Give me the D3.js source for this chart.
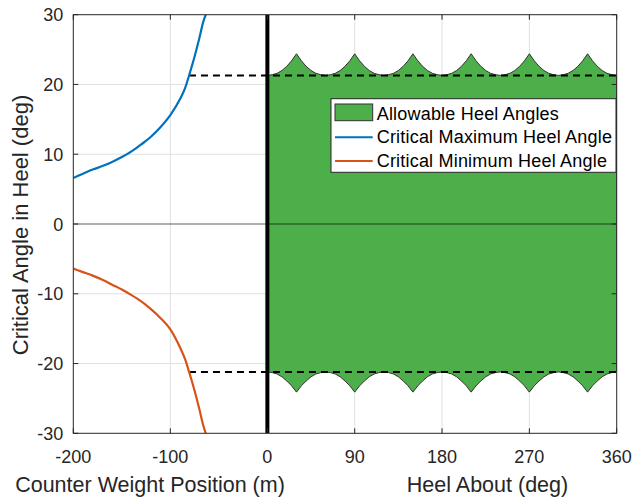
<!DOCTYPE html>
<html>
<head>
<meta charset="utf-8">
<script src="https://cdn.jsdelivr.net/npm/d3@7"></script>
<style>
  html, body { margin: 0; padding: 0; background: #fff; }
  svg { display: block; font-family: "Liberation Sans", Arial, Helvetica, sans-serif; }
</style>
</head>
<body>
<svg id="chart" width="635" height="500"></svg>
<script>
// ---------- data ----------
const xTicks = [-200, -100, 0, 90, 180, 270, 360];
const yTicks = [-30, -20, -10, 0, 10, 20, 30];
const xGrid = [-100, 90, 180, 270];
const yGrid = [-20, -10, 10, 20];

// Counter weight position (m) vs critical heel angle (deg)
const cwPos = [-200, -190, -180, -170, -160, -150, -140, -130, -120, -110, -100, -90, -85, -80, -75, -70, -66, -63.5];
const critMax = [6.6, 7.2, 7.8, 8.3, 8.9, 9.6, 10.4, 11.4, 12.5, 13.9, 15.6, 17.9, 19.4, 21.6, 24.0, 26.7, 29.0, 30.0];
const critMin = [-6.4, -6.9, -7.4, -8.0, -8.7, -9.4, -10.2, -11.1, -12.2, -13.5, -15.1, -17.7, -19.3, -21.5, -23.9, -26.6, -28.9, -30.0];

// Heel about (deg) vs allowable heel band
const heelAbout = [0,5,10,15,20,25,30,35,40,45,50,55,60,65,70,75,80,85,90,95,100,105,110,115,120,125,130,135,140,145,150,155,160,165,170,175,180,185,190,195,200,205,210,215,220,225,230,235,240,245,250,255,260,265,270,275,280,285,290,295,300,305,310,315,320,325,330,335,340,345,350,355,360];
const allowUpper = [21.3,21.4,21.6,22.0,22.6,23.4,24.4,23.4,22.6,22.0,21.6,21.4,
                    21.3,21.4,21.6,22.0,22.6,23.4,24.4,23.4,22.6,22.0,21.6,21.4,
                    21.3,21.4,21.6,22.0,22.6,23.4,24.4,23.4,22.6,22.0,21.6,21.4,
                    21.3,21.4,21.6,22.0,22.6,23.4,24.4,23.4,22.6,22.0,21.6,21.4,
                    21.3,21.4,21.6,22.0,22.6,23.4,24.4,23.4,22.6,22.0,21.6,21.4,
                    21.3,21.4,21.6,22.0,22.6,23.4,24.4,23.4,22.6,22.0,21.6,21.4,
                    21.3];
const allowLower = [-21.2,-21.3,-21.5,-21.9,-22.5,-23.2,-24.1,-23.2,-22.5,-21.9,-21.5,-21.3,
                    -21.2,-21.3,-21.5,-21.9,-22.5,-23.2,-24.1,-23.2,-22.5,-21.9,-21.5,-21.3,
                    -21.2,-21.3,-21.5,-21.9,-22.5,-23.2,-24.1,-23.2,-22.5,-21.9,-21.5,-21.3,
                    -21.2,-21.3,-21.5,-21.9,-22.5,-23.2,-24.1,-23.2,-22.5,-21.9,-21.5,-21.3,
                    -21.2,-21.3,-21.5,-21.9,-22.5,-23.2,-24.1,-23.2,-22.5,-21.9,-21.5,-21.3,
                    -21.2,-21.3,-21.5,-21.9,-22.5,-23.2,-24.1,-23.2,-22.5,-21.9,-21.5,-21.3,
                    -21.2];

// Critical limits (dashed lines)
const limitLevels = [21.3, -21.2];
const limitStart = [-80.8, -80.8];
const limitEnd = [360, 360];

const legendLabels = ["Allowable Heel Angles", "Critical Maximum Heel Angle", "Critical Minimum Heel Angle"];
const xLabelLeft = "Counter Weight Position (m)";
const xLabelRight = "Heel About (deg)";
const yLabel = "Critical Angle in Heel (deg)";

// ---------- layout ----------
const L = 73.3, R = 616.7, T = 14.7, B = 433.3;
const textCol = "#262626";
const blue = "#0072BD", orange = "#D95319", green = "#4DAF4A";

const svg = d3.select("#chart");
const x = d3.scaleLinear().domain([-200, 360]).range([L, R]);
const y = d3.scaleLinear().domain([-30, 30]).range([B, T]);

svg.append("defs").append("clipPath").attr("id", "clip")
  .append("rect").attr("x", L).attr("y", T).attr("width", R - L).attr("height", B - T);

// grid
const grid = svg.append("g").attr("stroke", "#e0e0e0").attr("stroke-width", 1);
grid.selectAll(".gx").data(xGrid).enter().append("line")
  .attr("x1", d => x(d)).attr("x2", d => x(d)).attr("y1", T).attr("y2", B);
grid.selectAll(".gy").data(yGrid).enter().append("line")
  .attr("x1", L).attr("x2", R).attr("y1", d => y(d)).attr("y2", d => y(d));

const plot = svg.append("g").attr("clip-path", "url(#clip)");

// allowable band
const band = heelAbout.map((h, i) => ({ h, lo: allowLower[i], hi: allowUpper[i] }));
plot.append("path").datum(band)
  .attr("d", d3.area().x(d => x(d.h)).y0(d => y(d.lo)).y1(d => y(d.hi)))
  .attr("fill", green).attr("stroke", "#333").attr("stroke-width", 1);

// zero line
plot.append("line").attr("x1", L).attr("x2", R).attr("y1", y(0)).attr("y2", y(0))
  .attr("stroke", "#000").attr("stroke-opacity", 0.42).attr("stroke-width", 1.6);

// dashed limits
plot.selectAll(".lim").data(limitLevels).enter().append("line")
  .attr("x1", (d, i) => x(limitStart[i])).attr("x2", (d, i) => x(limitEnd[i]))
  .attr("y1", d => y(d)).attr("y2", d => y(d))
  .attr("stroke", "#000").attr("stroke-width", 2).attr("stroke-dasharray", "7,5");

// thick line at x = 0
plot.append("line").attr("x1", x(0)).attr("x2", x(0)).attr("y1", T).attr("y2", B)
  .attr("stroke", "#000").attr("stroke-width", 4);

// critical curves
const line = d3.line().curve(d3.curveMonotoneX).x(d => x(d[0])).y(d => y(d[1]));
plot.append("path").datum(cwPos.map((p, i) => [p, critMax[i]]))
  .attr("d", line).attr("fill", "none").attr("stroke", blue).attr("stroke-width", 2.2);
plot.append("path").datum(cwPos.map((p, i) => [p, critMin[i]]))
  .attr("d", line).attr("fill", "none").attr("stroke", orange).attr("stroke-width", 2.2);

// box
svg.append("rect").attr("x", L).attr("y", T).attr("width", R - L).attr("height", B - T)
  .attr("fill", "none").attr("stroke", textCol).attr("stroke-width", 1);

// ticks (inside)
const tk = 5;
const ticks = svg.append("g").attr("stroke", textCol).attr("stroke-width", 1);
xTicks.forEach(t => {
  ticks.append("line").attr("x1", x(t)).attr("x2", x(t)).attr("y1", B).attr("y2", B - tk);
  ticks.append("line").attr("x1", x(t)).attr("x2", x(t)).attr("y1", T).attr("y2", T + tk);
});
yTicks.forEach(t => {
  ticks.append("line").attr("x1", L).attr("x2", L + tk).attr("y1", y(t)).attr("y2", y(t));
  ticks.append("line").attr("x1", R).attr("x2", R - tk).attr("y1", y(t)).attr("y2", y(t));
});

// tick labels
svg.append("g").selectAll("text").data(xTicks).enter().append("text")
  .attr("x", d => x(d)).attr("y", 463.3).attr("text-anchor", "middle")
  .attr("font-size", 18).attr("fill", textCol).text(d => d);
svg.append("g").selectAll("text").data(yTicks).enter().append("text")
  .attr("x", 63.3).attr("y", d => y(d) + 6.5).attr("text-anchor", "end")
  .attr("font-size", 18).attr("fill", textCol).text(d => d);

// axis labels
svg.append("text").attr("x", 150).attr("y", 492.3).attr("text-anchor", "middle")
  .attr("font-size", 21.5).attr("fill", textCol).text(xLabelLeft);
svg.append("text").attr("x", 487.5).attr("y", 492.3).attr("text-anchor", "middle")
  .attr("font-size", 21.5).attr("fill", textCol).text(xLabelRight);
svg.append("text").attr("transform", "translate(28.3,225) rotate(-90)").attr("text-anchor", "middle")
  .attr("font-size", 22).attr("fill", textCol).text(yLabel);

// legend
const lg = svg.append("g");
lg.append("rect").attr("x", 331).attr("y", 98.7).attr("width", 616 - 331).attr("height", 172.3 - 98.7)
  .attr("fill", "#fff").attr("stroke", textCol).attr("stroke-width", 1);
lg.append("rect").attr("x", 335).attr("y", 104).attr("width", 37.7).attr("height", 16.7)
  .attr("fill", green).attr("stroke", "#333").attr("stroke-width", 1);
lg.append("line").attr("x1", 335).attr("x2", 372.7).attr("y1", 137.3).attr("y2", 137.3)
  .attr("stroke", blue).attr("stroke-width", 2);
lg.append("line").attr("x1", 335).attr("x2", 372.7).attr("y1", 161).attr("y2", 161)
  .attr("stroke", orange).attr("stroke-width", 2);
const baselines = [120, 143.3, 166.7];
lg.selectAll(".lt").data(legendLabels).enter().append("text")
  .attr("x", 376.7).attr("y", (d, i) => baselines[i])
  .attr("font-size", 18).attr("letter-spacing", 0.2).attr("fill", "#000").text(d => d);
</script>
</body>
</html>
